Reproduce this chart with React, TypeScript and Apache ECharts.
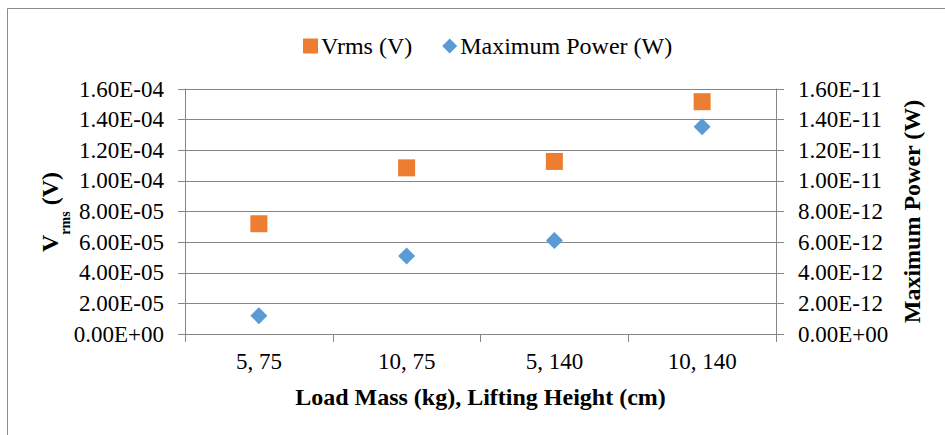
import React, { useEffect, useRef } from "react";
import * as echarts from "echarts";

const categories = ["5, 75", "10, 75", "5, 140", "10, 140"];
const vrmsValues = [7.2e-5, 1.085e-4, 1.127e-4, 1.517e-4];
const powerValues = [1.2e-12, 5.1e-12, 6.1e-12, 1.353e-11];
const vrmsName = "Vrms (V)";
const powerName = "Maximum Power (W)";
const xTitle = "Load Mass (kg), Lifting Height (cm)";

const FONT = "Liberation Serif";

function sci(v: number): string {
  if (v === 0) return "0.00E+00";
  const s = v.toExponential(2);
  const [m, e] = s.split("e");
  const sign = e[0] === "-" ? "-" : "+";
  const digits = e.replace(/[+-]/, "").padStart(2, "0");
  return `${m}E${sign}${digits}`;
}

export default function App() {
  const ref = useRef<HTMLDivElement>(null);
  useEffect(() => {
    if (!ref.current) return;
    const chart = echarts.init(ref.current, undefined, { renderer: "svg" });
    const axisLabelStyle = { fontFamily: FONT, fontSize: 23, color: "#000" };
    chart.setOption({
      animation: false,
      backgroundColor: "#fff",
      textStyle: { fontFamily: FONT },
      graphic: [
        {
          type: "rect",
          shape: { x: 7.5, y: 8.5, width: 1000, height: 500 },
          style: { fill: "none", stroke: "#8c8c8c", lineWidth: 1 },
          silent: true,
        },
        {
          type: "text",
          x: 50,
          y: 212,
          rotation: Math.PI / 2,
          silent: true,
          style: {
            text: "{a|V}{b|rms}{a| (V)}",
            align: "center",
            verticalAlign: "middle",
            fill: "#000",
            rich: {
              a: { fontFamily: FONT, fontWeight: "bold", fontSize: 24, fill: "#000", color: "#000", lineHeight: 26 },
              b: {
                fontFamily: FONT,
                fontWeight: "bold",
                fontSize: 14,
                fill: "#000",
                color: "#000",
                verticalAlign: "bottom",
                lineHeight: 26,
                padding: [0, 0, -9, 0],
              },
            },
          },
        },
      ],
      legend: {
        top: 29,
        left: 298,
        itemWidth: 15,
        itemHeight: 15,
        itemGap: 30,
        textStyle: { fontFamily: FONT, fontSize: 24, color: "#000", padding: [0, 0, 0, -2] },
        data: [
          { name: vrmsName, icon: "rect" },
          { name: powerName, icon: "diamond" },
        ],
      },
      grid: { left: 185, right: 169, top: 89, bottom: 101, containLabel: false },
      xAxis: {
        type: "category",
        data: categories,
        boundaryGap: true,
        axisLine: { lineStyle: { color: "#868686" } },
        axisTick: { show: true, length: 8, lineStyle: { color: "#868686" } },
        axisLabel: { ...axisLabelStyle, margin: 16 },
        name: xTitle,
        nameLocation: "middle",
        nameGap: 51,
        nameTextStyle: { fontFamily: FONT, fontSize: 24, fontWeight: "bold", color: "#000" },
      },
      yAxis: [
        {
          type: "value",
          min: 0,
          max: 1.6e-4,
          interval: 2e-5,
          position: "left",
          axisLine: { show: true, lineStyle: { color: "#868686" } },
          axisTick: { show: true, length: 7, lineStyle: { color: "#868686" } },
          splitLine: { show: true, lineStyle: { color: "#868686" } },
          axisLabel: { ...axisLabelStyle, margin: 21, formatter: (v: number) => sci(v) },
        },
        {
          type: "value",
          min: 0,
          max: 1.6e-11,
          interval: 2e-12,
          position: "right",
          axisLine: { show: true, lineStyle: { color: "#868686" } },
          axisTick: { show: true, length: 8, lineStyle: { color: "#868686" } },
          splitLine: { show: false },
          axisLabel: { ...axisLabelStyle, margin: 22, formatter: (v: number) => sci(v) },
          name: powerName,
          nameLocation: "middle",
          nameRotate: 90,
          nameGap: 124,
          nameTextStyle: { fontFamily: FONT, fontSize: 24, fontWeight: "bold", color: "#000" },
        },
      ],
      series: [
        {
          name: vrmsName,
          type: "scatter",
          yAxisIndex: 0,
          symbol: "rect",
          symbolSize: 17,
          itemStyle: { color: "#ED7D31", opacity: 1 },
          data: vrmsValues,
        },
        {
          name: powerName,
          type: "scatter",
          yAxisIndex: 1,
          symbol: "diamond",
          symbolSize: 17,
          itemStyle: { color: "#5B9BD5", opacity: 1 },
          data: powerValues,
        },
      ],
    });
    return () => chart.dispose();
  }, []);
  return (
    <div
      ref={ref}
      style={{ position: "fixed", left: 0, top: 0, width: 945, height: 435, background: "#fff" }}
    />
  );
}
